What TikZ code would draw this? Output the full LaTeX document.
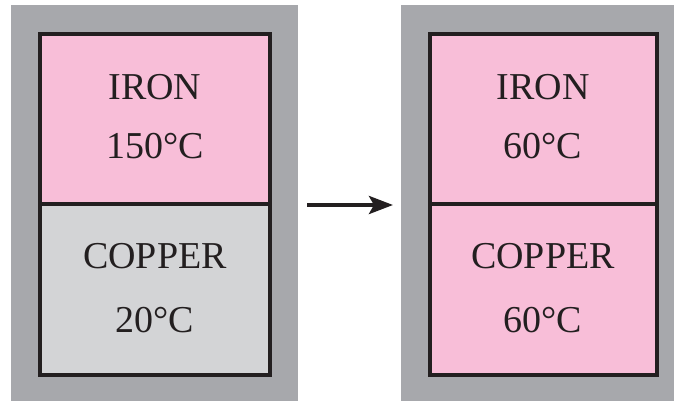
\documentclass[tikz,border=0pt]{standalone}
\usepackage{fontspec}
\setmainfont{Liberation Serif}
\usetikzlibrary{arrows.meta}
\definecolor{pinkfill}{HTML}{F8BED8}
\definecolor{outergray}{HTML}{A7A8AC}
\definecolor{cugray}{HTML}{D3D4D6}
\definecolor{edge}{HTML}{231F20}
\tikzset{
  label text/.style={font=\fontsize{38}{38}\selectfont, text=edge, inner sep=0pt},
  half/.style={draw=edge, line width=4pt, minimum width=230pt, inner sep=0pt, outer sep=0pt},
  jacket/.style={fill=outergray, draw=none, inner sep=0pt, outer sep=0pt}
}
\begin{document}
\begin{tikzpicture}[x=1pt,y=-1pt]
\useasboundingbox (0,0) rectangle (674,401);
% outer gray jackets
\fill[outergray] (11,5) rectangle (298,401);
\fill[outergray] (401,5) rectangle (674,401);
% left container
\node[half, fill=pinkfill, minimum height=170pt] (liron) at (155,119) {};
\node[half, fill=cugray, minimum height=171pt] (lcu) at (155,289.5) {};
% right container
\node[half, fill=pinkfill, minimum width=227.5pt, minimum height=170pt] (riron) at (543.25,119) {};
\node[half, fill=pinkfill, minimum width=227.5pt, minimum height=171pt] (rcu) at (543.25,289.5) {};
% texts
\node[label text] (t1) at (155,87) {IRON};
\node[label text] (t2) at (155,146.5) {150°C};
\node[label text] (t3) at (155,256) {COPPER};
\node[label text] (t4) at (155,320) {20°C};
\node[label text] (t5) at (543,87) {IRON};
\node[label text] (t6) at (543,146.5) {60°C};
\node[label text] (t7) at (543,256) {COPPER};
\node[label text] (t8) at (543,320) {60°C};
% arrow
\coordinate (a1) at (307,205);
\coordinate (a2) at (393,205);
\draw[edge, line width=4pt, -{Stealth[length=24pt,width=18pt,inset=5pt]}] (a1) -- (a2);
\end{tikzpicture}
\end{document}
